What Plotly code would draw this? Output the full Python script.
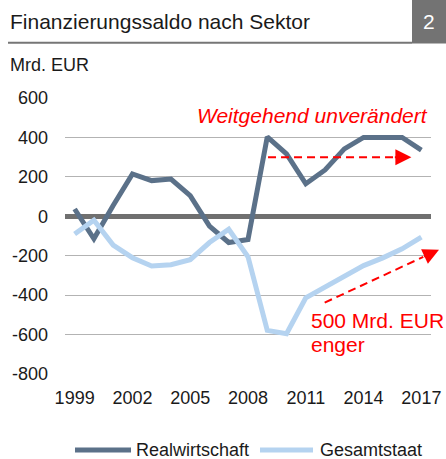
import plotly.graph_objects as go

# Financing balance by sector, bn EUR
years = list(range(1999, 2018))
realwirtschaft = [37, -114, 55, 215, 181, 189, 105, -50, -133, -118, 403, 316, 165, 235, 342, 400, 400, 400, 336]
gesamtstaat = [-90, -20, -146, -210, -252, -246, -220, -133, -66, -205, -579, -596, -413, -359, -300, -250, -211, -165, -106]

series_names = ["Realwirtschaft", "Gesamtstaat"]
series_colors = ["#5b7189", "#b5d3f0"]

x_ticks = [1999, 2002, 2005, 2008, 2011, 2014, 2017]
y_ticks = [600, 400, 200, 0, -200, -400, -600, -800]
y_tick_text = ["600", "400", "200", "0", "-200", "-400", "-600", "-800"]

W, H = 446, 459
M_L, M_R, M_T, M_B = 65, 15, 98, 85
PW, PH = W - M_L - M_R, H - M_T - M_B

def px(x):
    return (x - M_L) / PW

def py(y):
    return (H - M_B - y) / PH

FONT = "Liberation Sans, Arial, sans-serif"
RED = "#ff0000"

fig = go.Figure()
for name, vals, color in zip(series_names, [realwirtschaft, gesamtstaat], series_colors):
    fig.add_trace(go.Scatter(x=years, y=vals, name=name, mode="lines",
                             line=dict(color=color, width=5)))

# header: title, underline and page number box
shapes = [
    dict(type="line", xref="paper", yref="paper", x0=px(8), x1=px(412), y0=py(42.7), y1=py(42.7),
         line=dict(color="#767676", width=2)),
    dict(type="rect", xref="paper", yref="paper", x0=px(412), x1=px(446), y0=py(0), y1=py(43.5),
         fillcolor="#737373", line=dict(width=0)),
    # dashed trend arrows
    dict(type="line", xref="x", yref="y", x0=2009.04, y0=300, x1=2015.8, y1=300,
         line=dict(color=RED, width=2, dash="8px,5px")),
    dict(type="line", xref="x", yref="y", x0=2011.98, y0=-438, x1=2017.1, y1=-206,
         line=dict(color=RED, width=2, dash="8px,5px")),
]

annotations = [
    dict(text="Finanzierungssaldo nach Sektor", xref="paper", yref="paper", x=px(8), y=py(21),
         xanchor="left", yanchor="middle", showarrow=False, font=dict(size=21, color="#1a1a1a")),
    dict(text="2", xref="paper", yref="paper", x=px(429), y=py(21.5), xanchor="center",
         yanchor="middle", showarrow=False, font=dict(size=21, color="white")),
    dict(text="Mrd. EUR", xref="paper", yref="paper", x=px(8), y=py(65), xanchor="left",
         yanchor="middle", showarrow=False, font=dict(size=18, color="#1a1a1a")),
    dict(text="<i>Weitgehend unverändert</i>", xref="paper", yref="paper", x=px(429.5), y=py(116),
         xanchor="right", yanchor="middle", showarrow=False, font=dict(size=21, color=RED)),
    dict(text="500 Mrd. EUR", xref="paper", yref="paper", x=px(309), y=py(320), xanchor="left",
         yanchor="middle", showarrow=False, font=dict(size=21, color=RED)),
    dict(text="enger", xref="paper", yref="paper", x=px(309), y=py(344), xanchor="left",
         yanchor="middle", showarrow=False, font=dict(size=21, color=RED)),
    # arrowheads
    dict(text="", xref="x", yref="y", x=2016.48, y=300, ax=-18, ay=0, showarrow=True,
         arrowhead=2, arrowsize=1.6, arrowwidth=2, arrowcolor=RED, standoff=0),
    dict(text="", xref="paper", yref="y", x=px(439), y=-170, ax=-16.3, ay=7.6, showarrow=True,
         arrowhead=2, arrowsize=1.6, arrowwidth=2, arrowcolor=RED, standoff=0),
]

# legend row below the axis: swatch line + label per series
legend_y = 450
legend_items = [(75, 131, 134), (260, 313, 318)]
for (lx0, lx1, tx), name, color in zip(legend_items, series_names, series_colors):
    shapes.append(dict(type="line", xref="paper", yref="paper", x0=px(lx0), x1=px(lx1),
                       y0=py(legend_y), y1=py(legend_y), line=dict(color=color, width=5)))
    annotations.append(dict(text=name, xref="paper", yref="paper", x=px(tx), y=py(legend_y),
                            xanchor="left", yanchor="middle", showarrow=False,
                            font=dict(size=18, color="#1a1a1a")))

fig.update_layout(
    width=W, height=H,
    margin=dict(l=M_L, r=M_R, t=M_T, b=M_B, pad=0, autoexpand=False),
    paper_bgcolor="white", plot_bgcolor="white",
    font=dict(family=FONT, size=18, color="#1a1a1a"),
    showlegend=False,
    shapes=shapes,
    annotations=annotations,
    xaxis=dict(range=[1998.5, 2017.5], tickvals=x_ticks, ticktext=[str(t) for t in x_ticks],
               showgrid=False, zeroline=False, showline=False, ticks="", ticklabelstandoff=11,
               automargin=False, fixedrange=True),
    yaxis=dict(range=[-800, 600], tickvals=y_ticks, ticktext=y_tick_text, showgrid=True,
               gridcolor="#b3b3b3", gridwidth=1, zeroline=True, zerolinecolor="#707070",
               zerolinewidth=5, showline=False, ticks="", ticklabelstandoff=16,
               automargin=False, fixedrange=True),
)

fig.write_html("out.html")
